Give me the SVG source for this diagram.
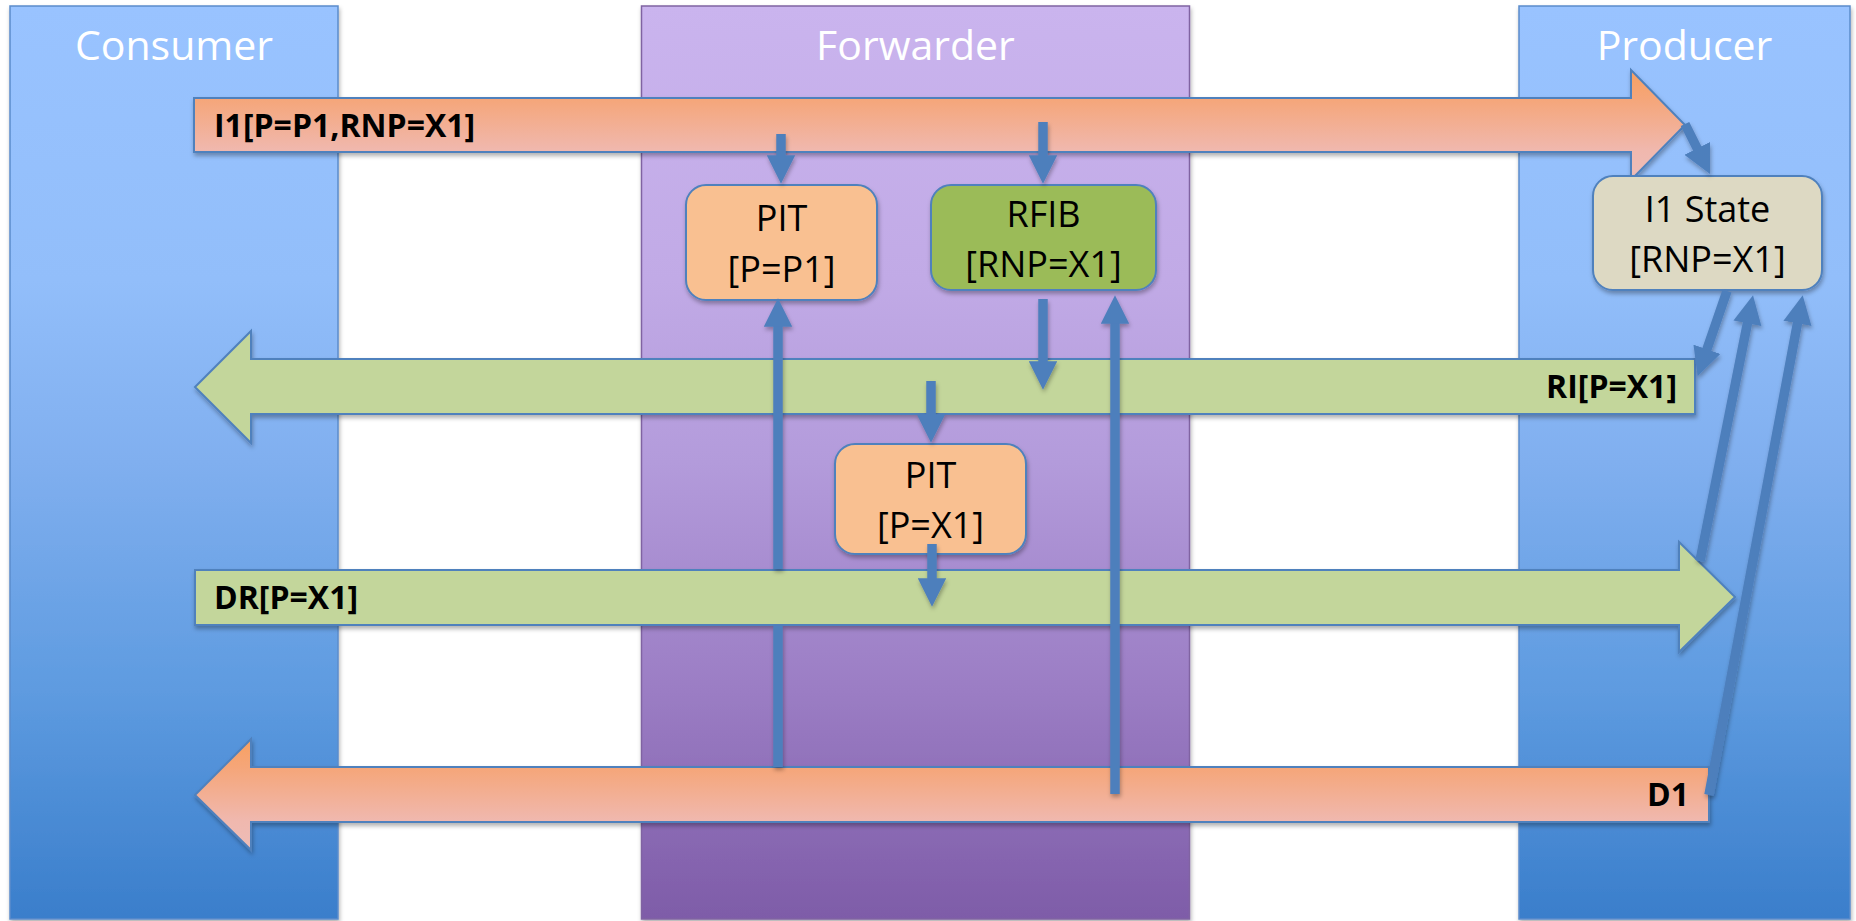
<svg xmlns="http://www.w3.org/2000/svg" width="1856" height="921" viewBox="0 0 1856 921">
  <defs>
    <linearGradient id="laneBlue" x1="0" y1="0" x2="0" y2="1">
      <stop offset="0" stop-color="#99C3FF"/>
      <stop offset="0.3" stop-color="#92BEFA"/>
      <stop offset="0.5" stop-color="#80AFEF"/>
      <stop offset="0.75" stop-color="#5E9BE0"/>
      <stop offset="1" stop-color="#3A7ECB"/>
    </linearGradient>
    <linearGradient id="lanePurple" x1="0" y1="0" x2="0" y2="1">
      <stop offset="0" stop-color="#CAB4EE"/>
      <stop offset="0.3" stop-color="#C1AAE6"/>
      <stop offset="0.5" stop-color="#B39BDB"/>
      <stop offset="0.75" stop-color="#9B7DC4"/>
      <stop offset="1" stop-color="#7E5CA8"/>
    </linearGradient>
    <linearGradient id="barOrange" x1="0" y1="0" x2="0" y2="1">
      <stop offset="0" stop-color="#F8A060"/>
      <stop offset="0.27" stop-color="#F5A67A"/>
      <stop offset="0.73" stop-color="#F0B8AE"/>
      <stop offset="1" stop-color="#EDBDB8"/>
    </linearGradient>
    <filter id="shadow" x="-10%" y="-10%" width="120%" height="130%">
      <feDropShadow dx="1" dy="3" stdDeviation="2" flood-color="#000" flood-opacity="0.3"/>
    </filter>
    <!-- user-space region so thin straight lines keep their shadow -->
    <filter id="lineShadow" filterUnits="userSpaceOnUse" x="0" y="0" width="1856" height="921">
      <feDropShadow dx="1" dy="3" stdDeviation="2" flood-color="#000" flood-opacity="0.3"/>
    </filter>
    <marker id="head" viewBox="0 0 10 10" refX="1" refY="5" markerWidth="3" markerHeight="3" orient="auto">
      <path d="M0,0 L10,5 L0,10 z" fill="#4E7FBC"/>
    </marker>
    <style>
      .lane-blue { fill: url(#laneBlue); stroke: #5B8CCB; stroke-width: 1.5; filter: url(#shadow); }
      .lane-purple { fill: url(#lanePurple); stroke: #8064A2; stroke-width: 1.5; filter: url(#shadow); }
      .lane-title { font-family: "Open Sans", "Liberation Sans", sans-serif; font-size: 41px; fill: #FFFFFF; text-anchor: middle; }
      .bar-orange { fill: url(#barOrange); stroke: #4F81BD; stroke-width: 2; filter: url(#shadow); }
      .bar-green { fill: #C3D69B; stroke: #4F81BD; stroke-width: 2; filter: url(#shadow); }
      .bar-label { font-family: "Open Sans", "Liberation Sans", sans-serif; font-size: 32px; font-weight: bold; fill: #000; }
      .node { stroke: #4F81BD; stroke-width: 2; filter: url(#shadow); }
      .node-text { font-family: "Open Sans", "Liberation Sans", sans-serif; font-size: 36px; fill: #000; text-anchor: middle; }
      #connectors { filter: url(#lineShadow); }
      .conn { stroke: #4E7FBC; stroke-width: 9.5; fill: none; }
      .conn-arrow { marker-end: url(#head); }
    </style>
  </defs>

  <rect width="1856" height="921" fill="#FFFFFF"/>

  <!-- swim lanes -->
  <g id="lane-consumer">
    <rect class="lane-blue" x="10" y="6" width="328" height="913"/>
    <text class="lane-title" x="174" y="60">Consumer</text>
  </g>
  <g id="lane-forwarder">
    <rect class="lane-purple" x="641.5" y="6" width="548" height="913"/>
    <text class="lane-title" x="915.5" y="60">Forwarder</text>
  </g>
  <g id="lane-producer">
    <rect class="lane-blue" x="1519" y="6" width="331" height="913"/>
    <text class="lane-title" x="1684.5" y="60">Producer</text>
  </g>

  <!-- packet bars -->
  <g id="packet-i1">
    <path class="bar-orange" d="M194,98 L1631,98 L1631,70 L1685,125 L1631,180 L1631,152 L194,152 Z"/>
    <text class="bar-label" x="214" y="137">I1[P=P1,RNP=X1]</text>
  </g>
  <g id="packet-ri">
    <path class="bar-green" d="M1695,359 L251,359 L251,331 L195,387 L251,443 L251,414 L1695,414 Z"/>
    <text class="bar-label" x="1677" y="398" text-anchor="end">RI[P=X1]</text>
  </g>
  <g id="packet-dr">
    <path class="bar-green" d="M195,570 L1679,570 L1679,542 L1735,597 L1679,652 L1679,625 L195,625 Z"/>
    <text class="bar-label" x="214" y="609">DR[P=X1]</text>
  </g>
  <g id="packet-d1">
    <path class="bar-orange" d="M1709,767 L251,767 L251,739 L195,795 L251,850 L251,822 L1709,822 Z"/>
    <text class="bar-label" x="1689" y="806" text-anchor="end">D1</text>
  </g>

  <!-- tables -->
  <g id="pit-p1">
    <rect class="node" x="686" y="185" width="191" height="115" rx="20" fill="#F9C091"/>
    <text class="node-text" x="781.5" y="231">PIT</text>
    <text class="node-text" x="781.5" y="282">[P=P1]</text>
  </g>
  <g id="rfib">
    <rect class="node" x="931" y="185" width="225" height="105" rx="20" fill="#9BBB59"/>
    <text class="node-text" x="1043.5" y="227">RFIB</text>
    <text class="node-text" x="1043.5" y="277">[RNP=X1]</text>
  </g>
  <g id="pit-x1">
    <rect class="node" x="835" y="444" width="191" height="110" rx="20" fill="#F9C091"/>
    <text class="node-text" x="930.5" y="488">PIT</text>
    <text class="node-text" x="930.5" y="538">[P=X1]</text>
  </g>
  <g id="i1-state">
    <rect class="node" x="1593" y="176" width="229" height="114" rx="20" fill="#DDD9C3"/>
    <text class="node-text" x="1707.5" y="222">I1 State</text>
    <text class="node-text" x="1707.5" y="272">[RNP=X1]</text>
  </g>

  <!-- connectors -->
  <g id="connectors">
    <line class="conn conn-arrow" x1="781" y1="134" x2="781" y2="158"/>
    <line class="conn conn-arrow" x1="1043" y1="122" x2="1043" y2="158"/>
    <line class="conn" x1="778" y1="767" x2="778" y2="626"/>
    <line class="conn conn-arrow" x1="778" y1="569" x2="778" y2="324"/>
    <line class="conn conn-arrow" x1="1115" y1="794" x2="1115" y2="321"/>
    <line class="conn conn-arrow" x1="1043" y1="299" x2="1043" y2="364"/>
    <line class="conn conn-arrow" x1="931" y1="381" x2="931" y2="417"/>
    <line class="conn conn-arrow" x1="932" y1="544" x2="932" y2="581"/>
    <line class="conn conn-arrow" x1="1685" y1="124" x2="1698.5" y2="151"/>
    <line class="conn conn-arrow" x1="1727" y1="291" x2="1706" y2="352"/>
    <line class="conn conn-arrow" x1="1700" y1="561" x2="1748" y2="320.5"/>
    <line class="conn conn-arrow" x1="1709" y1="795" x2="1798" y2="320.5"/>
  </g>
</svg>
